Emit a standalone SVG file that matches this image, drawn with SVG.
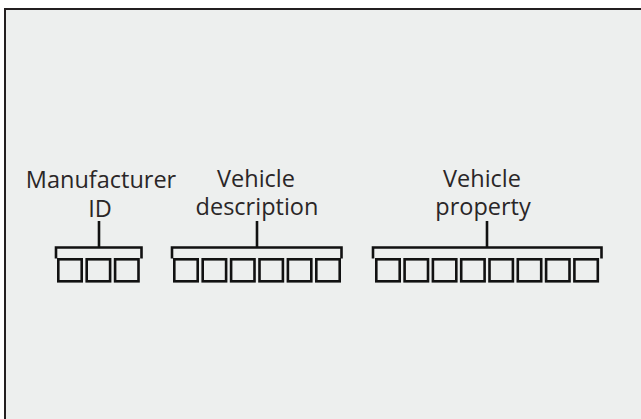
<svg xmlns="http://www.w3.org/2000/svg" width="641" height="419" viewBox="0 0 641 419">
<style>
.lbl{font-family:"Open Sans","Noto Sans",sans-serif;font-size:23.5px;fill:#2a2627;text-anchor:middle}
.ln{fill:none;stroke:#111;stroke-width:2.6;stroke-linejoin:miter}
.box{fill:none;stroke:#111;stroke-width:2.6}
</style>
<defs>
<rect id="b" class="box" x="0" y="0" width="23.4" height="22"/>
</defs>
<rect x="0" y="0" width="641" height="419" fill="#ffffff"/>
<rect x="5" y="9" width="640" height="415" fill="#edefee" stroke="#231f20" stroke-width="2"/>
<g id="manufacturer">
<text class="lbl" x="101" y="188">Manufacturer</text>
<text class="lbl" x="100" y="217">ID</text>
<path class="ln" d="M99,221 V247.5 M56,258.5 V247.5 H141.5 V258.5"/>
<use href="#b" x="58.3" y="259.3"/>
<use href="#b" x="86.7" y="259.3"/>
<use href="#b" x="115.1" y="259.3"/>
</g>
<g id="vehicle-description">
<text class="lbl" x="256" y="187">Vehicle</text>
<text class="lbl" x="257" y="215">description</text>
<path class="ln" d="M257,221 V247.5 M172,258.5 V247.5 H341.5 V258.5"/>
<use href="#b" x="174.3" y="259.3"/>
<use href="#b" x="202.7" y="259.3"/>
<use href="#b" x="231.1" y="259.3"/>
<use href="#b" x="259.5" y="259.3"/>
<use href="#b" x="287.9" y="259.3"/>
<use href="#b" x="316.3" y="259.3"/>
</g>
<g id="vehicle-property">
<text class="lbl" x="482" y="187">Vehicle</text>
<text class="lbl" x="483" y="215">property</text>
<path class="ln" d="M487,221 V247.5 M373,258.5 V247.5 H601.5 V258.5"/>
<use href="#b" x="376.3" y="259.3"/>
<use href="#b" x="404.6" y="259.3"/>
<use href="#b" x="432.9" y="259.3"/>
<use href="#b" x="461.2" y="259.3"/>
<use href="#b" x="489.5" y="259.3"/>
<use href="#b" x="517.8" y="259.3"/>
<use href="#b" x="546.1" y="259.3"/>
<use href="#b" x="574.4" y="259.3"/>
</g>
</svg>
